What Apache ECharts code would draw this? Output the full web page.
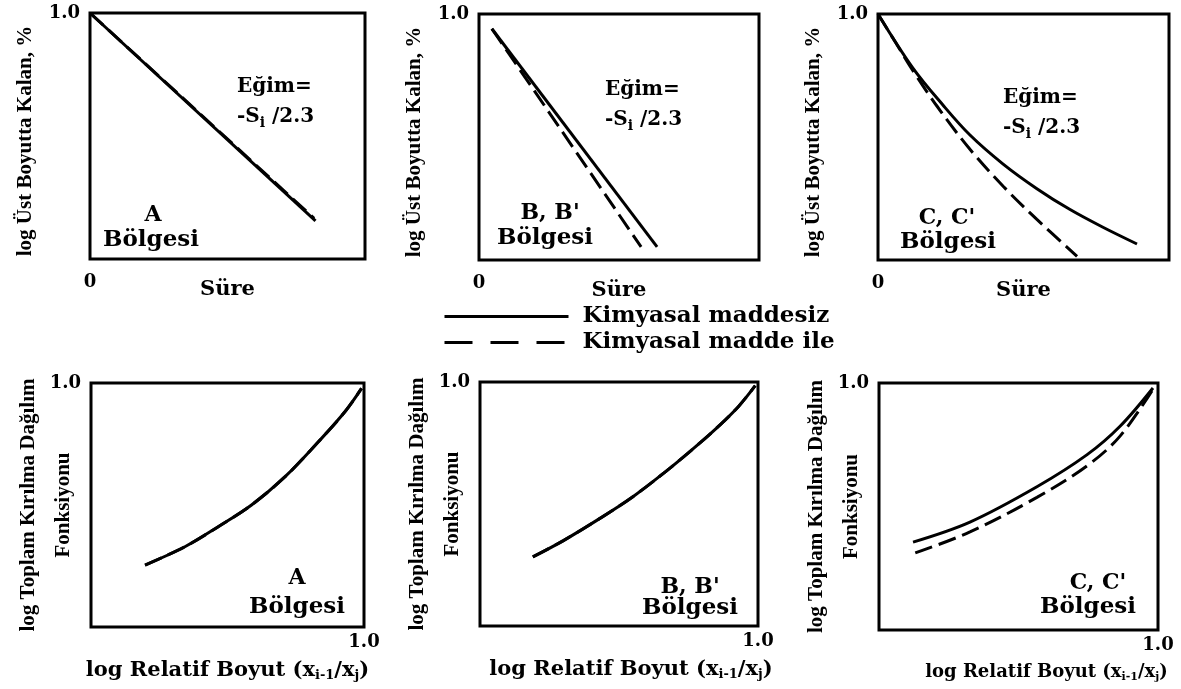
<!DOCTYPE html>
<html>
<head>
<meta charset="utf-8">
<script src="https://cdn.jsdelivr.net/npm/echarts@6/dist/echarts.min.js"></script>
<style>
  html, body { margin: 0; padding: 0; background: #fff; }
  #chart { width: 1181px; height: 689px; }
</style>
</head>
<body>
<div id="chart"></div>
<script>
// series names (legend)
const seriesNames = ['Kimyasal maddesiz', 'Kimyasal madde ile'];

// top row: log mass remaining vs time, values normalised to the box (0..1)
const aSolid  = [[0, 1], [0.82, 0.155]];
const aDashed = [[0, 1], [0.815, 0.165]];
const bSolid  = [[0.046, 0.94], [0.636, 0.053]];
const bDashed = [[0.046, 0.94], [0.579, 0.053]];
const cSolid  = [[0, 1], [0.12, 0.78], [0.223, 0.63], [0.316, 0.508], [0.43, 0.39], [0.546, 0.29], [0.66, 0.205], [0.773, 0.133], [0.89, 0.065]];
const cDashed = [[0, 1], [0.06, 0.885], [0.12, 0.77], [0.203, 0.625], [0.316, 0.45], [0.43, 0.3], [0.546, 0.165], [0.684, 0.015]];

// bottom row: log cumulative breakage distribution vs log relative size
const dSolid  = [[0.198, 0.254], [0.344, 0.329], [0.466, 0.411], [0.588, 0.5], [0.711, 0.616], [0.833, 0.759], [0.93, 0.882], [0.991, 0.978]];
const dDashed = dSolid;
const eSolid  = [[0.19, 0.283], [0.3, 0.35], [0.43, 0.44], [0.55, 0.53], [0.67, 0.635], [0.76, 0.72], [0.85, 0.81], [0.93, 0.9], [0.99, 0.985]];
const eDashed = eSolid;
const fSolid  = [[0.122, 0.356], [0.326, 0.437], [0.566, 0.58], [0.746, 0.71], [0.864, 0.825], [0.982, 0.98]];
const fDashed = [[0.13, 0.312], [0.326, 0.397], [0.566, 0.537], [0.746, 0.665], [0.864, 0.785], [0.982, 0.975]];

// panel labels
const slopeLabel = ['Eğim=', '-S{s|i} /2.3'];
const regionLabels = [['A', 'Bölgesi'], ['B, B\'', 'Bölgesi'], ['C, C\'', 'Bölgesi']];
const topYName = 'log Üst Boyutta Kalan, %';
const topXName = 'Süre';
const bottomYName = 'log Toplam Kırılma Dağılım\nFonksiyonu';
const bottomXName = '{n|log Relatif Boyut (x}{s|i-1}{n|/x}{s|j}{n|)}';

const SERIF = '"DejaVu Serif", serif';
const TIMES = '"Liberation Serif", "Times New Roman", serif';

const boxes = [
  { left: 90,  top: 13,  width: 275, height: 246 },
  { left: 479, top: 14,  width: 280, height: 246 },
  { left: 878, top: 14,  width: 291, height: 246 },
  { left: 91,  top: 383, width: 273, height: 244 },
  { left: 480, top: 382, width: 278, height: 244 },
  { left: 879, top: 383, width: 279, height: 247 }
];
const lines = [
  [aSolid, aDashed], [bSolid, bDashed], [cSolid, cDashed],
  [dSolid, dDashed], [eSolid, eDashed], [fSolid, fDashed]
];

const grid = boxes.map(b => Object.assign({
  show: true, borderColor: '#000', borderWidth: 3, backgroundColor: 'transparent',
  containLabel: false, outerBoundsMode: 'none'
}, b));

const xAxis = boxes.map((b, i) => {
  const top = i < 3;
  const small = i === 5;
  return {
    type: 'value', gridIndex: i, min: 0, max: 1, interval: 1,
    axisLine: { show: false }, axisTick: { show: false }, splitLine: { show: false },
    axisLabel: {
      margin: top ? 14 : 6,
      color: '#000', fontFamily: SERIF, fontWeight: 'bold', fontSize: 18,
      formatter: v => top ? (v === 0 ? '0' : '') : (v === 1 ? '1.0' : '')
    },
    name: top ? topXName : bottomXName,
    nameLocation: 'middle',
    nameGap: top ? 20 : 32,
    nameMoveOverlap: false,
    nameTextStyle: top
      ? { color: '#000', fontFamily: SERIF, fontWeight: 'bold', fontSize: 21 }
      : {
          color: '#000', fontFamily: SERIF, fontWeight: 'bold',
          padding: small ? [0, 0, 0, 56] : (i === 4 ? [0, 0, 0, 24] : 0),
          rich: {
            n: { fontFamily: SERIF, fontWeight: 'bold', fontSize: small ? 18 : 21, color: '#000' },
            s: { fontFamily: SERIF, fontWeight: 'bold', fontSize: small ? 11 : 13, color: '#000', padding: [10, 0, 0, 0] }
          }
        }
  };
});

const yAxis = boxes.map((b, i) => {
  const top = i < 3;
  return {
    type: 'value', gridIndex: i, min: 0, max: 1, interval: 1,
    axisLine: { show: false }, axisTick: { show: false }, splitLine: { show: false },
    axisLabel: {
      margin: 10,
      color: '#000', fontFamily: SERIF, fontWeight: 'bold', fontSize: 18,
      formatter: v => (v === 1 ? '1.0' : '')
    },
    name: top ? topYName : bottomYName,
    nameLocation: 'middle',
    nameRotate: 90,
    nameGap: top ? 53 : 10,
    nameMoveOverlap: false,
    nameTextStyle: {
      color: '#000', fontFamily: TIMES, fontWeight: 'bold', fontSize: 21,
      lineHeight: top ? 22 : 35,
      padding: top ? [0, 10, 0, 0] : 0
    }
  };
});

const series = [];
lines.forEach((pair, i) => {
  series.push({
    name: seriesNames[1], type: 'line', xAxisIndex: i, yAxisIndex: i,
    data: pair[1], smooth: pair[1].length > 2 ? 0.35 : false, symbol: 'none',
    itemStyle: { color: '#000' },
    lineStyle: { color: '#000', width: 3, type: [18, 7] }
  });
  series.push({
    name: seriesNames[0], type: 'line', xAxisIndex: i, yAxisIndex: i,
    data: pair[0], smooth: pair[0].length > 2 ? 0.35 : false, symbol: 'none',
    itemStyle: { color: '#000' },
    lineStyle: { color: '#000', width: 3, type: 'solid' }
  });
});

// label positions inside the panels (pixels)
const slopePos = [[237, 87], [605, 90], [1003, 98]];
const regionPos = [[153, 215, 151, 240], [550, 213, 545, 238], [947, 218, 948, 242],
                   [297, 578, 297, 607], [690, 587, 690, 608], [1098, 583, 1088, 607]];

const textFont = { fontFamily: SERIF, fontWeight: 'bold', fill: '#000' };
const graphic = [];
slopePos.forEach(p => {
  graphic.push({ type: 'text', x: p[0], y: p[1], style: Object.assign({
    text: slopeLabel[0], fontSize: 20, align: 'left', verticalAlign: 'middle' }, textFont) });
  graphic.push({ type: 'text', x: p[0], y: p[1] + 30, style: Object.assign({
    text: slopeLabel[1], fontSize: 20, align: 'left', verticalAlign: 'middle',
    rich: { s: { fontFamily: SERIF, fontWeight: 'bold', fontSize: 14, fill: '#000', padding: [12, 0, 0, 0] } }
  }, textFont) });
});
regionPos.forEach((p, i) => {
  const lab = regionLabels[i % 3];
  graphic.push({ type: 'text', x: p[0], y: p[1], style: Object.assign({
    text: lab[0], fontSize: 22, align: 'center', verticalAlign: 'middle' }, textFont) });
  graphic.push({ type: 'text', x: p[2], y: p[3], style: Object.assign({
    text: lab[1], fontSize: 23, align: 'center', verticalAlign: 'middle' }, textFont) });
});

const chart = echarts.init(document.getElementById('chart'));
chart.setOption({
  animation: false,
  backgroundColor: '#fff',
  grid, xAxis, yAxis, series, graphic,
  legend: {
    orient: 'vertical', left: 438, top: 300,
    itemWidth: 124, itemHeight: 14, itemGap: 3,
    itemStyle: { opacity: 0 },
    textStyle: { color: '#000', fontFamily: SERIF, fontWeight: 'bold', fontSize: 23, padding: [0, 0, 0, 9] },
    data: [
      { name: seriesNames[0], itemStyle: { opacity: 0 }, lineStyle: { color: '#000', width: 3, type: 'solid' } },
      { name: seriesNames[1], itemStyle: { opacity: 0 }, lineStyle: { color: '#000', width: 3, type: [28, 18] } }
    ]
  }
});
</script>
</body>
</html>
